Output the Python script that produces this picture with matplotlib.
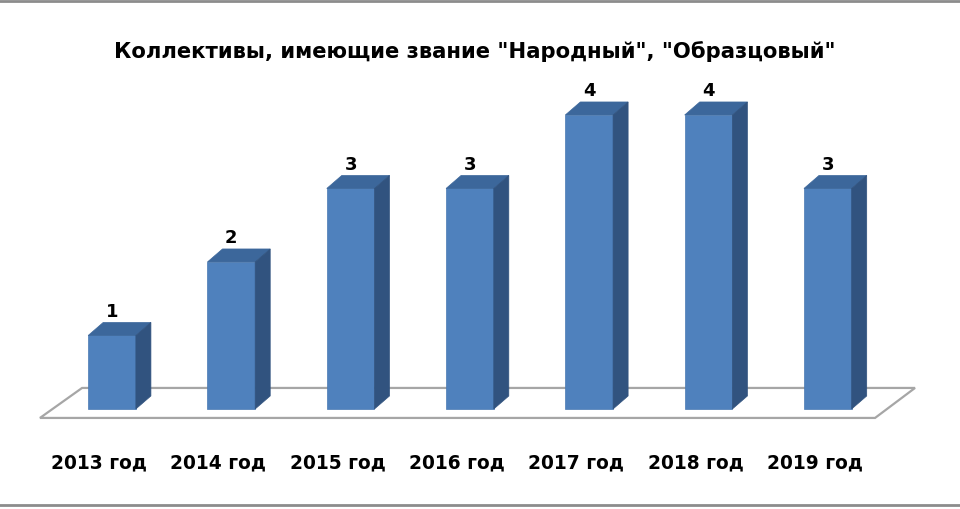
import matplotlib.pyplot as plt
from matplotlib.patches import Polygon
from matplotlib.lines import Line2D

years = ["2013 год", "2014 год", "2015 год", "2016 год", "2017 год", "2018 год", "2019 год"]
counts = [1, 2, 3, 3, 4, 4, 3]
title = 'Коллективы, имеющие звание "Народный", "Образцовый"'

plt.rcParams['font.family'] = ['DejaVu Sans']

front_c = '#4F81BD'
top_c = '#3C679B'
side_c = '#31537F'

fig = plt.figure(figsize=(9.6, 5.1), dpi=100)
ax = fig.add_axes([0, 0, 1, 1])
ax.set_xlim(-0.939, 7.108)
ax.set_ylim(-1.361, 5.578)
ax.axis('off')

n = len(counts)
w = 0.40
dx, dy = 0.126, 0.177

# floor
floor = Polygon([(-0.604, -0.122), (n - 1 + 0.396, -0.122),
                 (n - 1 + 0.731, 0.286), (-0.251, 0.286)],
                closed=True, facecolor='white', edgecolor='#A6A6A6', lw=1.6, zorder=1)
ax.add_patch(floor)

xs = list(range(n))
ax.bar(xs, counts, width=w, color=front_c, edgecolor='#4A79B2', lw=0.5, zorder=3)
for x, v in zip(xs, counts):
    l, r = x - w / 2, x + w / 2
    ax.add_patch(Polygon([(l, v), (r, v), (r + dx, v + dy), (l + dx, v + dy)],
                         closed=True, facecolor=top_c, edgecolor=top_c, lw=0.5, zorder=3))
    ax.add_patch(Polygon([(r, 0), (r + dx, dy), (r + dx, v + dy), (r, v)],
                         closed=True, facecolor=side_c, edgecolor=side_c, lw=0.5, zorder=3))
    ax.text(x, v + dy + 0.16, str(v), ha='center', va='center',
            fontsize=13, fontweight='bold', color='black', zorder=4)
    # category labels sit at the front edge of the floor, a bit left of bars
    ax.text(x - 0.11, -0.72, years[x], ha='center', va='center',
            fontsize=13.4, fontweight='bold', color='black')

fig.text(0.495, 1 - 52 / 510, title, ha='center', va='center',
         fontsize=15.2, fontweight='bold', color='black')

# frame lines
fig.add_artist(Line2D([0, 1], [1 - 2 / 510, 1 - 2 / 510], color='#8C8C8C', lw=2))
fig.add_artist(Line2D([0, 1], [4 / 510, 4 / 510], color='#8C8C8C', lw=2))

fig.savefig('out.png', dpi=100)
